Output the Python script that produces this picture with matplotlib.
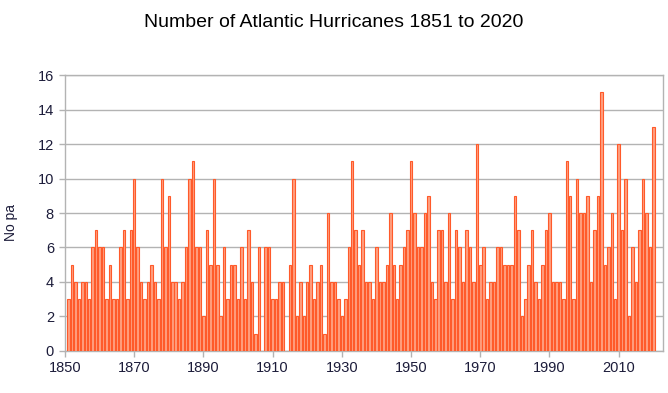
import numpy as np
import matplotlib
matplotlib.use("Agg")
import matplotlib.pyplot as plt

plt.rcParams['font.family'] = ['Liberation Sans', 'DejaVu Sans']

# hurricanes per year, 1851..2020
years = list(range(1851, 2021))
counts = [
    3, 5, 4, 3, 4, 4, 3, 6, 7, 6,        # 1851-1860
    6, 3, 5, 3, 3, 6, 7, 3, 7, 10,       # 1861-1870
    6, 4, 3, 4, 5, 4, 3, 10, 6, 9,       # 1871-1880
    4, 4, 3, 4, 6, 10, 11, 6, 6, 2,      # 1881-1890
    7, 5, 10, 5, 2, 6, 3, 5, 5, 3,       # 1891-1900
    6, 3, 7, 4, 1, 6, 0, 6, 6, 3,        # 1901-1910
    3, 4, 4, 0, 5, 10, 2, 4, 2, 4,       # 1911-1920
    5, 3, 4, 5, 1, 8, 4, 4, 3, 2,        # 1921-1930
    3, 6, 11, 7, 5, 7, 4, 4, 3, 6,       # 1931-1940
    4, 4, 5, 8, 5, 3, 5, 6, 7, 11,       # 1941-1950
    8, 6, 6, 8, 9, 4, 3, 7, 7, 4,        # 1951-1960
    8, 3, 7, 6, 4, 7, 6, 4, 12, 5,       # 1961-1970
    6, 3, 4, 4, 6, 6, 5, 5, 5, 9,        # 1971-1980
    7, 2, 3, 5, 7, 4, 3, 5, 7, 8,        # 1981-1990
    4, 4, 4, 3, 11, 9, 3, 10, 8, 8,      # 1991-2000
    9, 4, 7, 9, 15, 5, 6, 8, 3, 12,      # 2001-2010
    7, 10, 2, 6, 4, 7, 10, 8, 6, 13,     # 2011-2020
]
xticks = [1850, 1870, 1890, 1910, 1930, 1950, 1970, 1990, 2010]
yticks = [0, 2, 4, 6, 8, 10, 12, 14, 16]

grey = '#b3b3b3'
fig = plt.figure(figsize=(6.68, 3.93), dpi=100)
ax = fig.add_axes([0.0973, 0.107, 0.8952, 0.702])

ax.bar(years, counts, width=0.72, color='#ff9f80', edgecolor='#ff5a2a', linewidth=0.8, zorder=3)

ax.set_xlim(1850, 2022.8)
ax.set_ylim(0, 16)
ax.set_xticks(xticks)
ax.set_yticks(yticks)
ax.yaxis.grid(True, color=grey, linewidth=1.0, zorder=0)
for s in ax.spines.values():
    s.set_color(grey)
    s.set_linewidth(1.0)
ax.tick_params(colors=grey, labelcolor='#1c1c3a', labelsize=10.5, length=4, width=1.0)
ax.tick_params(axis='y', pad=4)

ax.set_ylabel('No pa', fontsize=10, color='#1c1c3a')
ax.yaxis.set_label_coords(-0.078, 0.464)
fig.suptitle('Number of Atlantic Hurricanes 1851 to 2020', fontsize=14, y=0.965, color='#000000')

fig.savefig('out.png', dpi=100)
